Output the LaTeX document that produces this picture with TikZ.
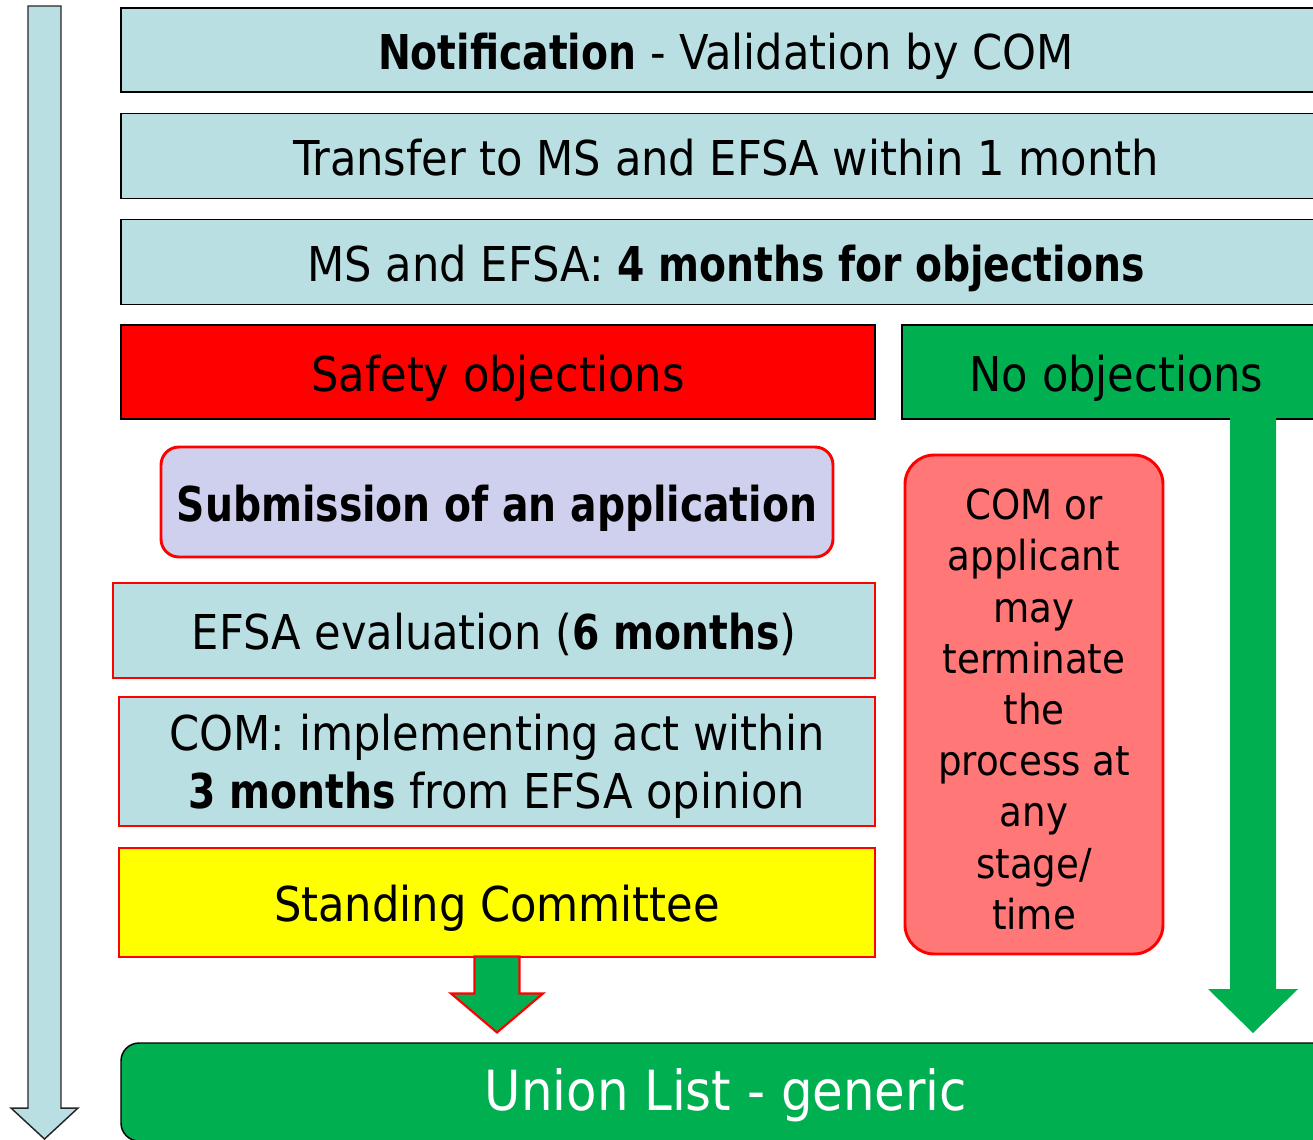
\documentclass[tikz,border=0pt]{standalone}
\usepackage{fontspec}
\setmainfont{DejaVu Sans Condensed}[BoldFeatures={FakeStretch=0.91}]
\usetikzlibrary{calc}

\definecolor{paleblue}{RGB}{185,223,227}
\definecolor{flowgreen}{RGB}{0,175,80}
\definecolor{lavender}{RGB}{207,207,238}
\definecolor{salmon}{RGB}{255,119,119}
\definecolor{signalred}{RGB}{255,0,0}
\definecolor{signalyellow}{RGB}{255,255,0}

\begin{document}
\begin{tikzpicture}[x=0.75pt,y=-0.75pt,
  sz/.style n args={2}{minimum width=#1*0.75pt, minimum height=#2*0.75pt},
  basebox/.style={inner sep=0pt, align=center, font=\fontsize{36}{43.5}\selectfont},
  oneline/.style={text height=28.5pt, text depth=0pt},
  stepbox/.style={basebox, draw=black, line width=1.1pt, fill=paleblue},
  redbox/.style={basebox, draw=signalred, line width=2.2pt},
  blockarrow/.style={line width=1.1pt, line join=miter}
]
\useasboundingbox (0,0) rectangle (1313,1139);
\clip (0,0) rectangle (1313,1139);

% time axis on the left
\coordinate (timetop) at (44.5,6);
\coordinate (timetip) at (44.5,1139);
\draw[blockarrow, fill=paleblue, draw=black!85]
  ($(timetop)+(-16.5,0)$) -- ($(timetop)+(16.5,0)$)
  -- ($(timetip)+(16.5,-31)$) -- ($(timetip)+(33.5,-31)$)
  -- (timetip)
  -- ($(timetip)+(-33.5,-31)$) -- ($(timetip)+(-16.5,-31)$) -- cycle;

% common steps
\node[stepbox, oneline, sz={1210}{84}] (notif) at (726,50)
  {\textbf{Notification} - Validation by COM};
\node[stepbox, oneline, sz={1210}{85}] (transfer) at (726,156)
  {Transfer to MS and EFSA within 1 month};
\node[stepbox, oneline, sz={1210}{85}] (objperiod) at (726,262)
  {MS and EFSA: \textbf{4 months for objections}};

% branches
\node[stepbox, oneline, fill=signalred, sz={754}{94}] (safety) at (498,372)
  {Safety objections};
\node[stepbox, oneline, fill=flowgreen, sz={429}{94}] (noobj) at (1116.5,372)
  {No objections};

% safety objection path
\node[redbox, oneline, fill=lavender, rounded corners=13.5pt, sz={672}{110}] (subm) at (497,502)
  {\textbf{Submission of an application}};
\node[redbox, oneline, fill=paleblue, sz={762}{95}] (efsa) at (494,630.5)
  {EFSA evaluation (\textbf{6 months})};
\node[redbox, fill=paleblue, sz={756}{129}, text depth=-1pt] (comact) at (497,761.5)
  {COM: implementing act within\\ \textbf{3 months} from EFSA opinion};
\node[redbox, oneline, fill=signalyellow, sz={756}{109}] (standing) at (497,902.5)
  {Standing Committee};

% termination note: box, then its text set slightly low
\node[redbox, fill=salmon, rounded corners=22pt, sz={258}{499}] (terminate) at (1034,704.5) {};
\node[basebox, font=\fontsize{31}{38.4}\selectfont] (terminatetext)
  at ($(terminate.center)+(0,5)$)
  {COM or\\applicant\\may\\terminate\\the\\process at\\any\\stage/\\time};

% final outcome
\node[stepbox, fill=flowgreen, rounded corners=13.5pt, sz={1210}{98},
      text=white, font=\fontsize{41.5}{48}\selectfont,
      text height=27pt, text depth=0pt] (union) at (726,1092)
  {Union List - generic};

% arrow from the Standing Committee to the Union List
\coordinate (tipA) at ($(standing.south)+(0,74)$);
\draw[blockarrow, fill=flowgreen, draw=signalred, line width=1.6pt]
  ($(standing.south)+(-22.5,-2)$) -- ($(standing.south)+(22.5,-2)$)
  -- ($(tipA)+(22.5,-39)$) -- ($(tipA)+(46,-39)$)
  -- (tipA)
  -- ($(tipA)+(-46,-39)$) -- ($(tipA)+(-22.5,-39)$) -- cycle;

% arrow from "No objections" straight to the Union List
\coordinate (startB) at (1253,417);
\coordinate (tipB) at (1253,1033);
\fill[flowgreen]
  ($(startB)+(-23,0)$) -- ($(startB)+(23,0)$)
  -- ($(tipB)+(23,-44)$) -- ($(tipB)+(45,-44)$)
  -- (tipB)
  -- ($(tipB)+(-45,-44)$) -- ($(tipB)+(-23,-44)$) -- cycle;
\end{tikzpicture}
\end{document}
